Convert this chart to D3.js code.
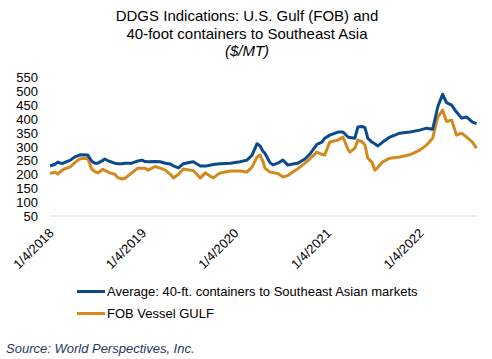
<!DOCTYPE html>
<html><head><meta charset="utf-8">
<script src="https://cdn.jsdelivr.net/npm/d3@7"></script>
<style>body{margin:0;background:#fff;}svg{display:block;font-family:"Liberation Sans",Arial,sans-serif;}</style>
</head><body><svg id="c" width="492" height="359"></svg>
<script>
const dates = ["2018-01-04","2018-01-24","2018-02-04","2018-02-20","2018-03-04","2018-03-24","2018-04-13","2018-05-02","2018-06-02","2018-06-18","2018-06-30","2018-07-12","2018-08-01","2018-08-08","2018-08-28","2018-09-17","2018-09-29","2018-10-15","2018-10-27","2018-11-23","2018-12-17","2019-01-02","2019-01-14","2019-01-26","2019-02-23","2019-03-15","2019-04-04","2019-04-24","2019-05-06","2019-05-26","2019-06-14","2019-07-12","2019-07-24","2019-08-20","2019-09-09","2019-09-17","2019-10-10","2019-10-26","2019-11-07","2019-12-16","2020-01-24","2020-02-20","2020-03-11","2020-03-31","2020-04-12","2020-04-24","2020-05-01","2020-05-21","2020-06-02","2020-06-21","2020-07-11","2020-07-31","2020-08-19","2020-09-08","2020-09-16","2020-10-06","2020-10-25","2020-11-22","2020-12-12","2020-12-23","2021-01-12","2021-02-13","2021-03-05","2021-03-25","2021-04-02","2021-04-21","2021-05-03","2021-05-19","2021-05-31","2021-06-11","2021-06-27","2021-07-09","2021-07-21","2021-08-09","2021-09-06","2021-10-15","2021-11-24","2022-01-02","2022-01-29","2022-02-22","2022-03-14","2022-04-02","2022-04-18","2022-05-08","2022-05-27","2022-06-16","2022-07-06","2022-07-29","2022-08-14"];
const containers = [230,236,244,238,243,250,263,270,269,247,240,240,250,255,246,240,238,238,240,240,248,251,246,245,246,245,240,237,230,223,238,243,245,230,230,231,235,237,238,240,245,251,268,310,302,282,276,242,234,240,251,233,237,240,244,255,272,308,316,330,341,352,352,334,332,330,370,372,368,330,316,310,302,316,334,348,352,359,366,362,442,488,458,449,424,402,406,388,382];
const fobGulf = [203,208,201,214,220,226,243,256,258,218,210,205,218,214,205,200,188,183,186,205,222,222,222,215,228,222,215,200,187,200,219,215,213,187,205,200,187,198,205,212,212,208,226,262,269,245,222,208,206,203,190,196,208,220,226,240,255,280,272,269,316,323,334,290,280,294,323,318,305,258,244,215,225,245,258,262,270,287,305,330,406,431,390,395,341,348,334,316,294];
const yTicks = [50,100,150,200,250,300,350,400,450,500,550];
const xTickLabels = ["1/4/2018","1/4/2019","1/4/2020","1/4/2021","1/4/2022"];
const seriesNames = ["Average: 40-ft. containers to Southeast Asian markets","FOB Vessel GULF"];
const colors = ["#0B4A8B","#D4891F"];

const parse = d3.timeParse("%Y-%m-%d");
const svg = d3.select("#c");
const x = d3.scaleTime().domain([parse("2018-01-04"), parse("2022-08-16")]).range([50, 477]);
const y = d3.scaleLinear().domain([50, 550]).range([216, 77]);

// title
const t = svg.append("text").attr("text-anchor","middle").attr("font-size",15).attr("fill","#000");
t.append("tspan").attr("x",247).attr("y",21).text("DDGS Indications: U.S. Gulf (FOB) and");
t.append("tspan").attr("x",247).attr("y",39).text("40-foot containers to Southeast Asia");
t.append("tspan").attr("x",247).attr("y",56).attr("font-style","italic").text("($/MT)");

// baseline gridline
svg.append("line").attr("x1",50).attr("x2",477).attr("y1",y(50)).attr("y2",y(50)).attr("stroke","#D9D9D9").attr("stroke-width",1);

// y axis
const yAxis = d3.axisLeft(y).tickValues(yTicks).tickSize(0).tickPadding(0);
const gy = svg.append("g").attr("transform","translate(38,0)").call(yAxis);
gy.select(".domain").remove();
gy.selectAll("text").attr("font-size",13).attr("fill","#000").attr("font-family","Liberation Sans, Arial, sans-serif").attr("dy","0.35em");

// x axis labels
const tickDates = xTickLabels.map(s => d3.timeParse("%m/%d/%Y")(s));
const xAxis = d3.axisBottom(x).tickValues(tickDates).tickFormat((d,i)=>xTickLabels[i]).tickSize(0).tickPadding(0);
const gx = svg.append("g").attr("transform","translate(0,216)").call(xAxis);
gx.select(".domain").remove();
gx.selectAll("text").attr("font-size",13).attr("fill","#000").attr("font-family","Liberation Sans, Arial, sans-serif")
  .attr("text-anchor","end").attr("dy",0).attr("y",0)
  .attr("transform","translate(4,18) rotate(-45)");

// lines
const line = d3.line().x((d,i)=>x(parse(dates[i]))).y(d=>y(d));
[containers, fobGulf].slice().reverse().forEach((s, k) => {
  const idx = 1 - k;
  svg.append("path").datum(s).attr("d", line).attr("fill","none").attr("stroke",colors[idx]).attr("stroke-width",3).attr("stroke-linejoin","round");
});

// legend
seriesNames.forEach((n,i)=>{
  const yy = 291.5 + i*22;
  svg.append("line").attr("x1",77).attr("x2",105).attr("y1",yy).attr("y2",yy).attr("stroke",colors[i]).attr("stroke-width",3);
  svg.append("text").attr("x",107).attr("y",yy+4.5).attr("font-size",13).attr("fill","#000").text(n);
});

// source
svg.append("text").attr("x",6).attr("y",353).attr("font-size",13).attr("font-style","italic").attr("fill","#1F3864").text("Source: World Perspectives, Inc.");
</script></body></html>
